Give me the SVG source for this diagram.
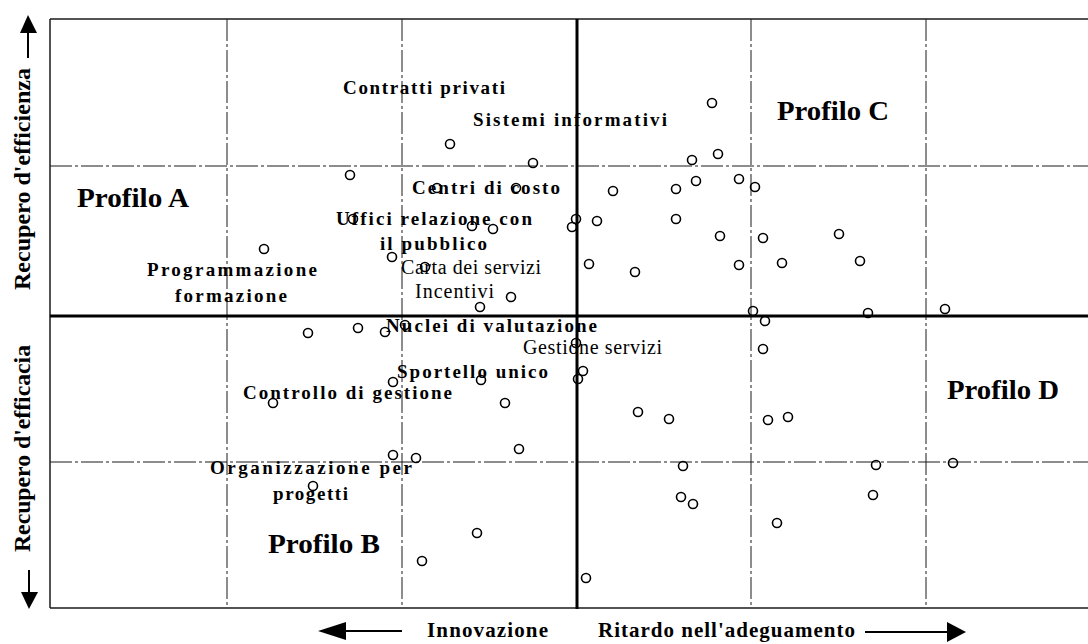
<svg xmlns="http://www.w3.org/2000/svg" width="1088" height="644" viewBox="0 0 1088 644">
<defs>
<style>
.frame{stroke:#1a1a1a;stroke-width:1.5;fill:none}
.axis{stroke:#000;stroke-width:3;fill:none}
.grid{stroke:#1a1a1a;stroke-width:1;fill:none;stroke-dasharray:22 3 3 3}
.pt{fill:none;stroke:#000;stroke-width:1.6}
.lb{font-family:"Liberation Serif","Times New Roman",serif;font-weight:bold;font-size:19px;fill:#000}
.lr{font-family:"Liberation Serif","Times New Roman",serif;font-size:20px;fill:#000}
.pf{font-family:"Liberation Serif","Times New Roman",serif;font-weight:bold;font-size:28px;fill:#000}
.ax{font-family:"Liberation Serif","Times New Roman",serif;font-weight:bold;font-size:23px;fill:#000}
.bx{font-family:"Liberation Serif","Times New Roman",serif;font-weight:bold;font-size:21px;fill:#000}
.arr{stroke:#000;stroke-width:2;fill:none}
</style>
</defs>
<rect width="1088" height="644" fill="#fff"/>

<g id="grid">
<line class="grid" x1="227" y1="19" x2="227" y2="608"/>
<line class="grid" x1="402" y1="19" x2="402" y2="608"/>
<line class="grid" x1="751" y1="19" x2="751" y2="608"/>
<line class="grid" x1="926" y1="19" x2="926" y2="608"/>
<line class="grid" x1="50" y1="166" x2="1088" y2="166"/>
<line class="grid" x1="50" y1="462" x2="1088" y2="462"/>
</g>

<g id="frame">
<line class="frame" x1="50" y1="19" x2="1088" y2="19"/>
<line class="frame" x1="50" y1="19" x2="50" y2="608"/>
<line class="frame" x1="50" y1="608" x2="1088" y2="608"/>
<line class="axis" x1="50" y1="316" x2="1088" y2="316"/>
<line class="axis" x1="577" y1="19" x2="577" y2="609"/>
</g>

<g id="connectors">
<line class="arr" x1="28" y1="58" x2="28" y2="30"/>
<polygon points="28,15 20,33 37,33" fill="#000"/>
<line class="arr" x1="29" y1="570" x2="29" y2="595"/>
<polygon points="29,609 21,592 38,592" fill="#000"/>
<line class="arr" x1="402" y1="631" x2="343" y2="631"/>
<polygon points="318,631 346,622 346,640" fill="#000"/>
<line class="arr" x1="865" y1="632" x2="950" y2="632"/>
<polygon points="966,632 947,622 947,642" fill="#000"/>
</g>

<g id="points">
<circle class="pt" cx="450" cy="144" r="4.5"/>
<circle class="pt" cx="533" cy="163" r="4.5"/>
<circle class="pt" cx="350" cy="175" r="4.5"/>
<circle class="pt" cx="264" cy="249" r="4.5"/>
<circle class="pt" cx="392" cy="257" r="4.5"/>
<circle class="pt" cx="472" cy="226" r="4.5"/>
<circle class="pt" cx="493" cy="229" r="4.5"/>
<circle class="pt" cx="576" cy="219" r="4.5"/>
<circle class="pt" cx="572" cy="227" r="4.5"/>
<circle class="pt" cx="511" cy="297" r="4.5"/>
<circle class="pt" cx="480" cy="307" r="4.5"/>
<circle class="pt" cx="437" cy="188" r="4.5"/>
<circle class="pt" cx="516" cy="188" r="4.5"/>
<circle class="pt" cx="353" cy="219" r="4.5"/>
<circle class="pt" cx="425" cy="267" r="4.5"/>
<circle class="pt" cx="405" cy="325" r="4.5"/>
<circle class="pt" cx="613" cy="191" r="4.5"/>
<circle class="pt" cx="676" cy="189" r="4.5"/>
<circle class="pt" cx="692" cy="160" r="4.5"/>
<circle class="pt" cx="696" cy="181" r="4.5"/>
<circle class="pt" cx="712" cy="103" r="4.5"/>
<circle class="pt" cx="718" cy="154" r="4.5"/>
<circle class="pt" cx="739" cy="179" r="4.5"/>
<circle class="pt" cx="755" cy="187" r="4.5"/>
<circle class="pt" cx="597" cy="221" r="4.5"/>
<circle class="pt" cx="676" cy="219" r="4.5"/>
<circle class="pt" cx="589" cy="264" r="4.5"/>
<circle class="pt" cx="635" cy="272" r="4.5"/>
<circle class="pt" cx="720" cy="236" r="4.5"/>
<circle class="pt" cx="763" cy="238" r="4.5"/>
<circle class="pt" cx="739" cy="265" r="4.5"/>
<circle class="pt" cx="782" cy="263" r="4.5"/>
<circle class="pt" cx="839" cy="234" r="4.5"/>
<circle class="pt" cx="860" cy="261" r="4.5"/>
<circle class="pt" cx="753" cy="311" r="4.5"/>
<circle class="pt" cx="868" cy="313" r="4.5"/>
<circle class="pt" cx="945" cy="309" r="4.5"/>
<circle class="pt" cx="358" cy="328" r="4.5"/>
<circle class="pt" cx="385" cy="332" r="4.5"/>
<circle class="pt" cx="308" cy="333" r="4.5"/>
<circle class="pt" cx="393" cy="382" r="4.5"/>
<circle class="pt" cx="481" cy="380" r="4.5"/>
<circle class="pt" cx="505" cy="403" r="4.5"/>
<circle class="pt" cx="273" cy="403" r="4.5"/>
<circle class="pt" cx="393" cy="455" r="4.5"/>
<circle class="pt" cx="416" cy="458" r="4.5"/>
<circle class="pt" cx="519" cy="449" r="4.5"/>
<circle class="pt" cx="313" cy="486" r="4.5"/>
<circle class="pt" cx="477" cy="533" r="4.5"/>
<circle class="pt" cx="422" cy="561" r="4.5"/>
<circle class="pt" cx="576" cy="343" r="4.5"/>
<circle class="pt" cx="583" cy="371" r="4.5"/>
<circle class="pt" cx="578" cy="379" r="4.5"/>
<circle class="pt" cx="765" cy="321" r="4.5"/>
<circle class="pt" cx="763" cy="349" r="4.5"/>
<circle class="pt" cx="638" cy="412" r="4.5"/>
<circle class="pt" cx="669" cy="419" r="4.5"/>
<circle class="pt" cx="768" cy="420" r="4.5"/>
<circle class="pt" cx="788" cy="417" r="4.5"/>
<circle class="pt" cx="683" cy="466" r="4.5"/>
<circle class="pt" cx="681" cy="497" r="4.5"/>
<circle class="pt" cx="693" cy="504" r="4.5"/>
<circle class="pt" cx="876" cy="465" r="4.5"/>
<circle class="pt" cx="953" cy="463" r="4.5"/>
<circle class="pt" cx="873" cy="495" r="4.5"/>
<circle class="pt" cx="777" cy="523" r="4.5"/>
<circle class="pt" cx="586" cy="578" r="4.5"/>
</g>

<g id="labels">
<text class="lb" x="343" y="94" textLength="162" lengthAdjust="spacing">Contratti privati</text>
<text class="lb" x="473" y="126" textLength="194" lengthAdjust="spacing">Sistemi informativi</text>
<text class="lb" x="412" y="194" textLength="148" lengthAdjust="spacing">Centri di costo</text>
<text class="lb" x="336" y="225" textLength="196" lengthAdjust="spacing">Uffici relazione con</text>
<text class="lb" x="380" y="250" textLength="107" lengthAdjust="spacing">il pubblico</text>
<text class="lr" x="401" y="274" textLength="140" lengthAdjust="spacing">Carta dei servizi</text>
<text class="lr" x="415" y="298" textLength="79" lengthAdjust="spacing">Incentivi</text>
<text class="lb" x="386" y="332" textLength="211" lengthAdjust="spacing">Nuclei di valutazione</text>
<text class="lr" x="523" y="354" textLength="139" lengthAdjust="spacing">Gestione servizi</text>
<text class="lb" x="397" y="378" textLength="151" lengthAdjust="spacing">Sportello unico</text>
<text class="lb" x="243" y="399" textLength="209" lengthAdjust="spacing">Controllo di gestione</text>
<text class="lb" x="147" y="276" textLength="170" lengthAdjust="spacing">Programmazione</text>
<text class="lb" x="175" y="302" textLength="112" lengthAdjust="spacing">formazione</text>
<text class="lb" x="210" y="474" textLength="202" lengthAdjust="spacing">Organizzazione per</text>
<text class="lb" x="273" y="500" textLength="75" lengthAdjust="spacing">progetti</text>
</g>

<g id="profiles">
<text class="pf" x="77" y="207" textLength="112" lengthAdjust="spacingAndGlyphs">Profilo A</text>
<text class="pf" x="777" y="120" textLength="112" lengthAdjust="spacingAndGlyphs">Profilo C</text>
<text class="pf" x="947" y="399" textLength="112" lengthAdjust="spacingAndGlyphs">Profilo D</text>
<text class="pf" x="268" y="553" textLength="112" lengthAdjust="spacingAndGlyphs">Profilo B</text>
</g>

<g id="axis-labels">
<text class="ax" transform="translate(30,290) rotate(-90)" textLength="222" lengthAdjust="spacingAndGlyphs">Recupero d'efficienza</text>
<text class="ax" transform="translate(30,552) rotate(-90)" textLength="207" lengthAdjust="spacingAndGlyphs">Recupero d'efficacia</text>
<text class="bx" x="427" y="637" textLength="121" lengthAdjust="spacing">Innovazione</text>
<text class="bx" x="598" y="637" textLength="257" lengthAdjust="spacing">Ritardo nell'adeguamento</text>
</g>
</svg>
